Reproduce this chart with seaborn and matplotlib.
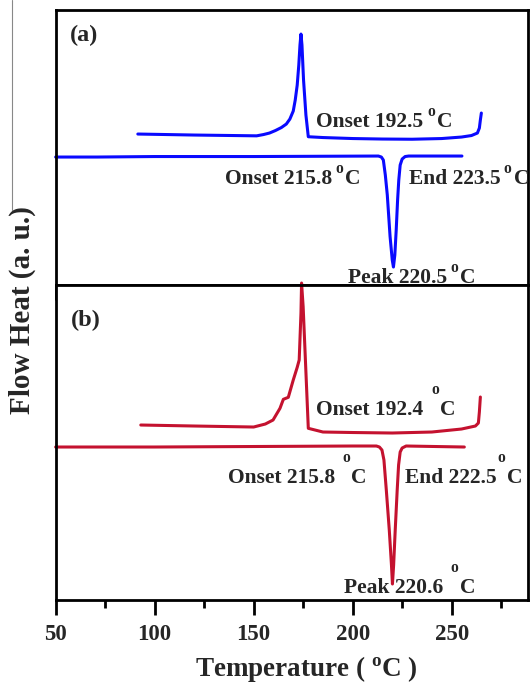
"""
DSC heat-flow curves, two samples (a) and (b), cooling + heating runs.
Saves out.png (530x684).
"""

import numpy as np
import pandas as pd
import matplotlib
matplotlib.use("Agg")
import matplotlib.pyplot as plt
from matplotlib.lines import Line2D
from matplotlib.ticker import MultipleLocator
import seaborn as sns

# ---- Data (heat flow in arbitrary units) ----
# panel (a), cooling run (exotherm)
a_cool_T = [91.5, 120, 140, 151.5, 155, 158, 161, 164, 166.5, 168.3, 170,
            171, 172, 172.8, 173.4, 173.9, 174.4, 175.2, 176.4, 177.6,
            185, 200, 215, 230, 245, 255, 260, 263, 264, 264.5, 265]
a_cool_H = [151, 150, 149.5, 149.2, 150.5, 152, 154.5, 157.5, 161, 166, 174,
            185, 200, 220, 240, 251, 240, 205, 170, 148.3,
            147.5, 146.5, 146, 145.8, 146.5, 148, 149.5, 152, 157, 165, 172]
# panel (a), heating run (endotherm)
a_heat_T = [50, 71, 100, 150, 213, 214.5, 215.5, 216.5, 217.5, 218.9, 220,
            220.6, 221.3, 222, 222.7, 223.3, 224, 225, 226.5, 228.3, 255.2]
a_heat_H = [128, 128, 128.5, 128.5, 129, 128, 125, 110, 90, 48.5, 25,
            18, 30, 55, 85, 105, 120, 126, 128.5, 129, 129]

# panel (b), cooling run
b_cool_T = [93, 120, 150, 155.9, 159.8, 163.3, 165, 167.5, 170, 172, 173,
            173.9, 174.2, 175, 177.6, 185, 200, 220, 240, 255, 262, 263.5,
            264, 264.5]
b_cool_H = [175, 174, 173, 176, 180, 191.7, 200.7, 202.7, 220, 232.7, 240,
            287, 317, 293.3, 171.7, 168, 167.5, 167, 168, 171, 174, 177,
            188, 203]
# panel (b), heating run
b_heat_T = [50, 100, 150, 200, 212, 213.5, 214.8, 215.8, 217, 218.5, 219.6,
            220.1, 220.7, 221.5, 222.5, 223.2, 224, 225, 227, 256.4]
b_heat_H = [153, 153, 153.5, 154, 154, 153, 150, 140, 110, 70, 35,
            16, 35, 70, 110, 135, 148, 152, 154, 153]

X_TICKS = [50, 100, 150, 200, 250]

BLUE = "#0a0aff"
RED = "#c4122f"

sns.set_theme(style="white")
plt.rcParams["font.family"] = ["Liberation Serif", "DejaVu Serif"]
plt.rcParams["font.weight"] = "bold"
plt.rcParams["mathtext.fontset"] = "custom"
plt.rcParams["mathtext.rm"] = "Liberation Serif:bold"
plt.rcParams["mathtext.bf"] = "Liberation Serif:bold"
plt.rcParams["mathtext.it"] = "Liberation Serif:bold"

fig = plt.figure(figsize=(5.3, 6.84), dpi=100)
ax_a = fig.add_axes([0.105, 0.5833, 0.891, 0.402])
ax_b = fig.add_axes([0.105, 0.1228, 0.891, 0.4605])

FS = 15.5


def deg_label(ax, x, y, value, o_gap, o_rise, c_gap):
    """value text, then a raised 'o' and a 'C' (degree sign as drawn)."""
    t = ax.text(x, y, value, fontsize=FS, fontweight="bold", va="baseline")
    o = ax.annotate("o", xy=(1, 0), xycoords=t, xytext=(o_gap, o_rise),
                    textcoords="offset points", fontsize=FS * 0.72,
                    fontweight="bold", va="bottom", ha="left")
    ax.annotate("C", xy=(1, 0), xycoords=(o, t), xytext=(c_gap, 0),
                textcoords="offset points", fontsize=FS,
                fontweight="bold", va="bottom", ha="left")


def draw_curve(ax, T, H, color):
    df = pd.DataFrame({"T": T, "H": H})
    sns.lineplot(data=df, x="T", y="H", ax=ax, color=color, lw=2.2,
                 estimator=None, sort=False, legend=False, clip_on=False)


draw_curve(ax_a, a_cool_T, a_cool_H, BLUE)
draw_curve(ax_a, a_heat_T, a_heat_H, BLUE)
draw_curve(ax_b, b_cool_T, b_cool_H, RED)
draw_curve(ax_b, b_heat_T, b_heat_H, RED)

ax_a.set_ylim(0, 275)
ax_b.set_ylim(0, 315)

for ax in (ax_a, ax_b):
    ax.set_xlim(50, 288.5)
    ax.set_xticks(X_TICKS)
    ax.xaxis.set_minor_locator(MultipleLocator(25))
    ax.set_yticks([])
    ax.set_xlabel("")
    ax.set_ylabel("")
    for sp in ax.spines.values():
        sp.set_visible(True)
        sp.set_linewidth(2.0)
        sp.set_color("black")
    ax.tick_params(axis="x", which="major", direction="out", length=11,
                   width=2.0, color="black", bottom=True, top=False,
                   labelsize=16.5, pad=6)
    ax.tick_params(axis="x", which="minor", direction="out", length=6,
                   width=2.0, color="black", bottom=True, top=False)

ax_a.tick_params(axis="x", which="both", labelbottom=False)
for lab in ax_b.get_xticklabels():
    lab.set_fontweight("bold")

# annotations panel (a)
ax_a.text(57, 244.5, "(a)", fontsize=17.5, fontweight="bold", va="baseline")
deg_label(ax_a, 181.4, 158, "Onset 192.5", 3.0, 9, 1.5)
deg_label(ax_a, 135.3, 101, "Onset 215.8", 2.5, 9, 1.5)
deg_label(ax_a, 228.3, 101, "End 223.5", 2.0, 9, 2.5)
deg_label(ax_a, 197.6, 2, "Peak 220.5", 2.5, 9, 1.5)

# annotations panel (b)
ax_b.text(57.7, 274, "(b)", fontsize=17.5, fontweight="bold", va="baseline")
deg_label(ax_b, 181.4, 185, "Onset 192.4", 6.0, 16, 1.0)
deg_label(ax_b, 137, 117, "Onset 215.8", 5.5, 16, 0.5)
deg_label(ax_b, 226.6, 117, "End 222.5", 0.5, 16, 1.0)
deg_label(ax_b, 195.6, 7, "Peak 220.6", 5.0, 16, 1.5)

ax_b.set_xlabel(r"Temperature ( ${}^{\mathbf{o}}$C )", fontsize=19.5,
                fontweight="bold")
ax_b.xaxis.set_label_coords(0.53, -0.172)

fig.text(22.5 / 530, 1 - 310 / 684, "Flow Heat (a. u.)", rotation=90,
         fontsize=21, fontweight="bold", ha="center", va="center")

# thin grey rule at the far left (edge of the neighbouring figure)
fig.add_artist(Line2D([12 / 530, 12 / 530], [1.0, 1 - 210 / 684],
                      color="#888888", lw=0.8))

fig.savefig("out.png", dpi=100)
